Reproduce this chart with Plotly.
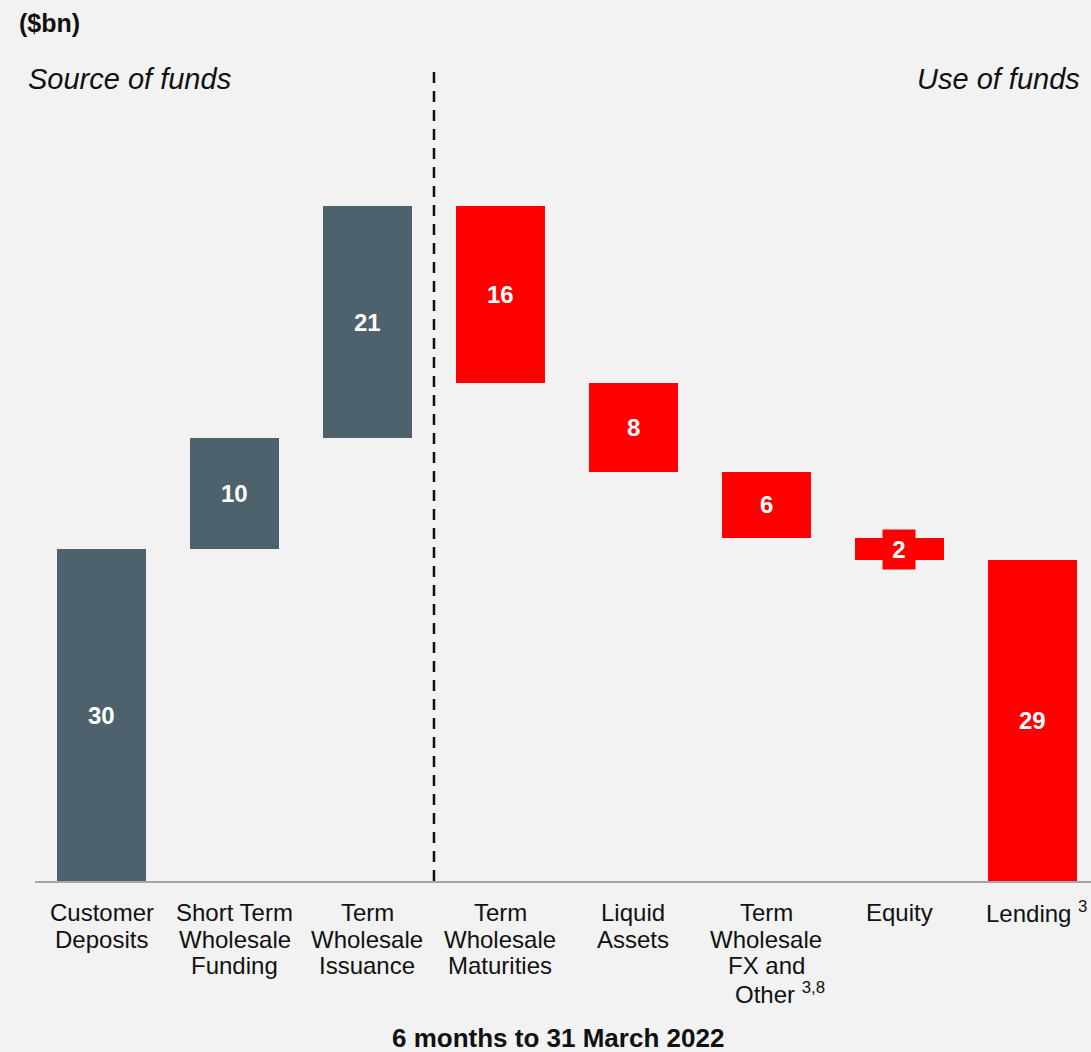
import plotly.graph_objects as go

categories = ["Customer\nDeposits", "Short Term\nWholesale\nFunding", "Term\nWholesale\nIssuance",
              "Term\nWholesale\nMaturities", "Liquid\nAssets",
              "Term\nWholesale\nFX and\nOther <sup>3,8</sup>", "Equity", "Lending <sup>3</sup>"]
values = [30, 10, 21, 16, 8, 6, 2, 29]
kinds = ["source", "source", "source", "use", "use", "use", "use", "use"]
unit_label = "($bn)"
left_header = "Source of funds"
right_header = "Use of funds"
period_title = "6 months to 31 March 2022"

SRC_COLOR = "#4d626d"
USE_COLOR = "#ff0000"
BG = "#f2f2f2"
TXT = "#111111"
FONT = "Liberation Sans, Arial, sans-serif"

W, H = 1091, 1052
ML, MR, MT, MB = 35, 0, 60, 171

# waterfall bases
bases = []
level = 0
for v, k in zip(values, kinds):
    if k == "source":
        bases.append(level)
        level += v
    else:
        level -= v
        bases.append(level)

x = list(range(len(categories)))
colors = [SRC_COLOR if k == "source" else USE_COLOR for k in kinds]

fig = go.Figure()
fig.add_trace(go.Bar(x=x, y=values, base=bases, marker=dict(color=colors, line=dict(width=0)),
                     width=0.67, hoverinfo="skip", showlegend=False))

# value labels
for xi, v, b, k in zip(x, values, bases, kinds):
    small = v < 4
    kw = dict(bgcolor=USE_COLOR, borderpad=4, width=24, height=31) if small else {}
    fig.add_annotation(x=xi, y=b + v / 2, text=f"<b>{v}</b>", showarrow=False,
                       font=dict(family=FONT, size=24, color="white"), **kw)

# divider between sources and uses
fig.add_shape(type="line", x0=2.5, x1=2.5, y0=0, y1=73.4, xref="x", yref="y",
              line=dict(color="#111111", width=2.5, dash="11px,8px"))


def px_x(p):
    return (p - ML) / (W - ML - MR)


def px_y(p):
    return (H - MB - p) / (H - MT - MB)


# category labels, one annotation per line for tight line spacing
LINE0, LINE_STEP = 912, 27
for xi, cat in zip(x, categories):
    for j, line in enumerate(cat.split("\n")):
        xs = 0
        if "<sup>" in line:
            xs = 14 if line.startswith("Other") else 4
        fig.add_annotation(x=xi, y=px_y(LINE0 + j * LINE_STEP), xref="x", yref="paper",
                           xanchor="center", yanchor="middle", xshift=xs,
                           text=line, showarrow=False,
                           font=dict(family=FONT, size=24, color=TXT))

fig.add_annotation(x=px_x(17), y=px_y(23), xref="paper", yref="paper", xanchor="left", yanchor="middle",
                   text=f"<b>{unit_label}</b>", showarrow=False, font=dict(family=FONT, size=25, color=TXT))
fig.add_annotation(x=px_x(26), y=px_y(79), xref="paper", yref="paper", xanchor="left", yanchor="middle",
                   text=f"<i>{left_header}</i>", showarrow=False, font=dict(family=FONT, size=29, color=TXT))
fig.add_annotation(x=px_x(1082), y=px_y(79), xref="paper", yref="paper", xanchor="right", yanchor="middle",
                   text=f"<i>{right_header}</i>", showarrow=False, font=dict(family=FONT, size=29, color=TXT))
fig.add_annotation(x=px_x(558), y=px_y(1038), xref="paper", yref="paper", xanchor="center", yanchor="middle",
                   text=f"<b>{period_title}</b>", showarrow=False, borderpad=0, height=26,
                   font=dict(family=FONT, size=26, color=TXT))

fig.update_layout(
    width=W, height=H,
    paper_bgcolor=BG, plot_bgcolor=BG,
    margin=dict(l=ML, r=MR, t=MT, b=MB),
    font=dict(family=FONT, color=TXT),
    bargap=0,
    xaxis=dict(range=[-0.5, 7.44], showticklabels=False, showgrid=False, zeroline=False,
               showline=True, linecolor="#a6a6a6", linewidth=2, ticks=""),
    yaxis=dict(range=[0, 74.2], visible=False, showgrid=False, zeroline=False),
)

fig.write_html("out.html", config={"displayModeBar": False},
               post_script="document.body.style.margin='0';document.body.style.overflow='hidden';")
